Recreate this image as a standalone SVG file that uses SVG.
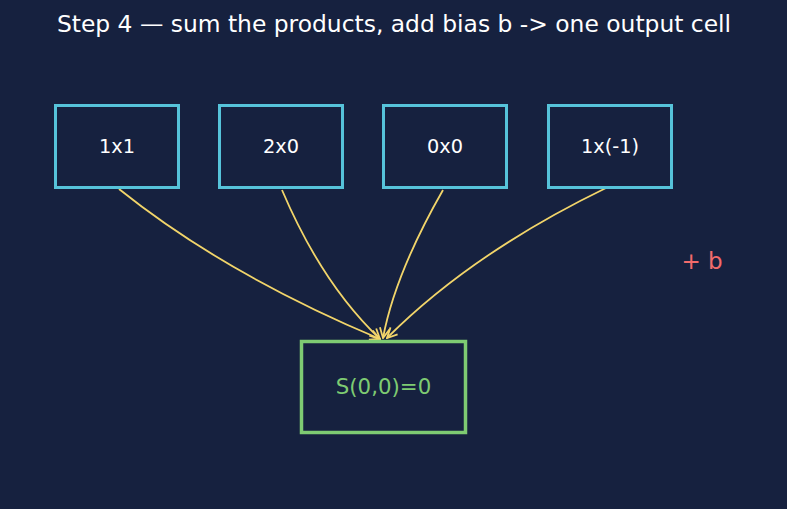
<svg xmlns="http://www.w3.org/2000/svg" width="787" height="509" viewBox="0 0 787 509">
<defs>
<style>
.bg{fill:#16213f}
.in rect{fill:#16213f;stroke:#56c3da;stroke-width:3}
.in text{fill:#ffffff;font-family:"DejaVu Sans",sans-serif;font-size:19.3px;text-anchor:middle;dominant-baseline:central}
.out rect{fill:#16213f;stroke:#7ecb72;stroke-width:3.5}
.out text{fill:#7ecb72;font-family:"DejaVu Sans",sans-serif;font-size:21.3px;text-anchor:middle;dominant-baseline:central}
.edge{fill:none;stroke:#f2d56a;stroke-width:1.8;marker-end:url(#ah)}
.title{fill:#ffffff;font-family:"DejaVu Sans",sans-serif;font-size:23.4px;text-anchor:middle}
.bias{fill:#f26b6b;font-family:"DejaVu Sans",sans-serif;font-size:23px;text-anchor:middle;dominant-baseline:central}
</style>
<marker id="ah" markerWidth="12" markerHeight="12" refX="11" refY="6" orient="auto" markerUnits="userSpaceOnUse">
<path d="M1,1 L11,6 L1,11" fill="none" stroke="#f2d56a" stroke-width="1.8"/>
</marker>
</defs>
<rect class="bg" x="0" y="0" width="787" height="509"/>
<text class="title" x="394" y="32">Step 4 — sum the products, add bias b -&gt; one output cell</text>
<g id="connectors">
<path class="edge" d="M119,189 Q225,274 380,339"/>
<path class="edge" d="M282,190 Q322,284 380,339"/>
<path class="edge" d="M443,190 Q395,274 383,338"/>
<path class="edge" d="M606,188 Q472,253 387,338"/>
</g>
<g id="n1" class="in"><rect x="55.5" y="105.5" width="123" height="82"/><text x="117" y="146">1x1</text></g>
<g id="n2" class="in"><rect x="219.5" y="105.5" width="123" height="82"/><text x="281" y="146">2x0</text></g>
<g id="n3" class="in"><rect x="383.5" y="105.5" width="123" height="82"/><text x="445" y="146">0x0</text></g>
<g id="n4" class="in"><rect x="548.5" y="105.5" width="123" height="82"/><text x="610" y="146">1x(-1)</text></g>
<g id="out" class="out"><rect x="301.5" y="341.5" width="164" height="91"/><text x="383.5" y="386">S(0,0)=0</text></g>
<text class="bias" x="702" y="261">+ b</text>
</svg>
